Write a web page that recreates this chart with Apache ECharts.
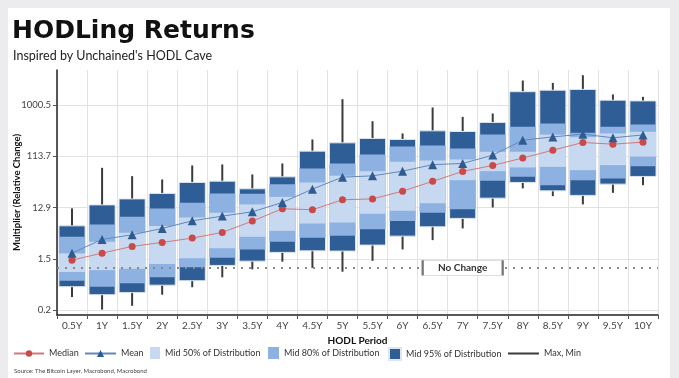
<!DOCTYPE html>
<html>
<head>
<meta charset="utf-8">
<script src="https://cdn.jsdelivr.net/npm/echarts@6/dist/echarts.min.js"></script>
<style>
  html, body { margin: 0; padding: 0; background: #ececef; }
  #card { position: absolute; left: 8px; top: 8px; right: 9px; bottom: 0; background: #fff; }
  #chart { position: absolute; left: 0; top: 0; width: 679px; height: 378px; }
</style>
</head>
<body>
<div id="card"></div>
<div id="chart"></div>
<script>
// holding periods
const periods = ['0.5Y','1Y','1.5Y','2Y','2.5Y','3Y','3.5Y','4Y','4.5Y','5Y',
                 '5.5Y','6Y','6.5Y','7Y','7.5Y','8Y','8.5Y','9Y','9.5Y','10Y']
// return multipliers per period
const maxV   = [12.5, 69.9, 49.1, 42.7, 77.4, 80.7, 52.8, 84.2, 233, 1288, 506, 301, 906, 608, 702, 2846, 2572, 3564, 1572, 1420]
const p975   = [5.96, 14.5, 18.7, 23.6, 37.6, 39.7, 28.7, 47.7, 142, 202, 243, 233, 336, 327, 480, 1770, 1886, 1952, 1235, 1198]
const p90    = [3.74, 6.33, 8.74, 12.5, 15.8, 23.6, 23.2, 35.0, 68.1, 84.2, 123, 173, 181, 159, 288, 398, 459, 309, 398, 442]
const p75    = [1.85, 3.03, 4.44, 5.89, 8.52, 10.4, 14.8, 20.4, 37.6, 49.7, 60.7, 90.2, 95.7, 99.8, 138, 138, 286, 257, 301, 322]
const meanV  = [1.87, 3.35, 4.07, 5.34, 7.37, 9.0, 10.8, 16.1, 28.3, 47.1, 49.7, 60.7, 80.0, 84.2, 120, 226, 260, 292, 250, 283]
const median = [1.39, 1.87, 2.49, 2.95, 3.54, 4.51, 7.28, 12.3, 11.8, 18.0, 18.7, 26.0, 39.4, 60.0, 77.4, 106, 148, 205, 191, 208]
const p25    = [0.84, 0.91, 0.96, 1.18, 1.50, 2.29, 3.74, 4.82, 6.60, 6.89, 9.92, 11.3, 15.6, 41.4, 60.7, 71.1, 72.9, 63.4, 78.4, 113]
const p10    = [0.58, 0.45, 0.52, 0.67, 1.03, 1.54, 2.19, 3.03, 3.59, 3.90, 5.18, 7.28, 10.4, 12.0, 40.2, 47.7, 33.5, 41.4, 44.5, 75.1]
const p025   = [0.45, 0.32, 0.35, 0.48, 0.58, 1.11, 1.33, 1.93, 2.06, 2.04, 2.63, 3.85, 5.72, 8.17, 19.3, 37.6, 26.3, 21.7, 35.0, 48.5]
const minV   = [0.29, 0.17, 0.20, 0.32, 0.44, 0.67, 0.94, 1.30, 1.00, 0.85, 1.35, 2.19, 3.25, 5.34, 13.0, 29.2, 21.0, 14.8, 24.2, 33.5]
// y tick labels (log spaced)
const yTicks = [0.167, 1.47, 12.94, 113.7, 1000.5]
const noChange = 1

const ln = Math.log
const band = (lo, hi) => periods.map((p, i) => [i, ln(lo[i]), ln(hi[i])])

const chart = echarts.init(document.getElementById('chart'))

function rectItem(params, api) {
  const lo = api.coord([api.value(0), api.value(1)])
  const hi = api.coord([api.value(0), api.value(2)])
  const w = api.size([1, 0])[0] * 0.87
  return {
    type: 'rect',
    shape: { x: lo[0] - w / 2, y: hi[1], width: w, height: lo[1] - hi[1] },
    style: api.style()
  }
}
function whiskerItem(params, api) {
  const lo = api.coord([api.value(0), api.value(1)])
  const hi = api.coord([api.value(0), api.value(2)])
  return {
    type: 'line',
    shape: { x1: lo[0], y1: lo[1], x2: hi[0], y2: hi[1] },
    style: { stroke: '#3b3b3b', lineWidth: 2 }
  }
}

const font = 'Lato'
const legendText = { fontFamily: font, fontSize: 9, color: '#333' }
// one legend per item so each sits where it does in the original
function leg(name, left, w, h, extra) {
  return Object.assign({ data: [name], left: left, top: 353 - 6, itemWidth: w, itemHeight: h,
    textStyle: legendText, padding: 0 }, extra || {})
}

const option = {
  animation: false,
  title: [
    { text: 'HODLing Returns', left: 12, top: 19, padding: 0,
      textStyle: { fontFamily: 'DejaVu Sans', fontWeight: 'bold', fontSize: 25, color: '#111' } },
    { text: "Inspired by Unchained's HODL Cave", left: 13, top: 49, padding: 0,
      textStyle: { fontFamily: font, fontWeight: 'normal', fontSize: 12.5, color: '#222' } },
    { text: 'Source: The Bitcoin Layer, Macrobond, Macrobond', left: 14, top: 368, padding: 0,
      textStyle: { fontFamily: font, fontWeight: 'normal', fontSize: 6, color: '#444' } }
  ],
  legend: [
    leg('Median', 13, 30, 8, { top: 349 }),
    leg('Mean', 84, 31, 9, { top: 349 }),
    leg({ name: 'Mid 50% of Distribution', icon: 'rect' }, 150, 10, 12),
    leg({ name: 'Mid 80% of Distribution', icon: 'rect' }, 268, 11, 12),
    leg({ name: 'Mid 95% of Distribution', icon: 'rect' }, 388, 12, 12),
    leg('Max, Min', 507, 31, 8, { top: 349, itemStyle: { opacity: 0 } })
  ],
  grid: { left: 57, right: 21, top: 70, bottom: 63 },
  xAxis: {
    type: 'category',
    data: periods,
    name: 'HODL Period',
    nameLocation: 'middle',
    nameGap: 17,
    nameTextStyle: { fontFamily: font, fontWeight: 'bold', fontSize: 10, color: '#111' },
    axisLine: { onZero: false, lineStyle: { color: '#222', width: 1.5 } },
    axisTick: { show: true, length: 4, lineStyle: { color: '#555' } },
    axisLabel: { fontFamily: font, fontSize: 10, color: '#444', margin: 6, interval: 0 },
    splitLine: { show: true, lineStyle: { color: '#e2e2e2' } }
  },
  yAxis: {
    type: 'value',
    min: -2.0,
    max: 8.4,
    name: 'Multiplier (Relative Change)',
    nameLocation: 'middle',
    nameGap: 35,
    nameMoveOverlap: false,
    nameTextStyle: { fontFamily: font, fontWeight: 'bold', fontSize: 9.5, color: '#111' },
    axisLine: { show: true, onZero: false, lineStyle: { color: '#222', width: 1.5 } },
    axisTick: { show: true, length: 4, customValues: yTicks.map(ln), lineStyle: { color: '#555' } },
    axisLabel: { fontFamily: font, fontSize: 9.5, color: '#444', margin: 6,
                 customValues: yTicks.map(ln), formatter: v => Math.exp(v).toFixed(1) },
    splitLine: { show: true, lineStyle: { color: '#e2e2e2' } }
  },
  series: [
    { name: 'Max, Min', type: 'line', data: [], symbol: 'none', lineStyle: { color: '#3b3b3b', width: 2 }, itemStyle: { color: '#3b3b3b' } },
    { name: 'whiskers', type: 'custom', renderItem: whiskerItem, data: band(minV, maxV), encode: { x: 0, y: [1, 2] } },
    { name: 'Mid 95% of Distribution', type: 'custom', renderItem: rectItem, data: band(p025, p975),
      encode: { x: 0, y: [1, 2] }, itemStyle: { color: '#2f5d95', borderColor: '#dfe6ef', borderWidth: 1 } },
    { name: 'Mid 80% of Distribution', type: 'custom', renderItem: rectItem, data: band(p10, p90),
      encode: { x: 0, y: [1, 2] }, itemStyle: { color: '#8db2e2' } },
    { name: 'Mid 50% of Distribution', type: 'custom', renderItem: rectItem, data: band(p25, p75),
      encode: { x: 0, y: [1, 2] }, itemStyle: { color: '#c7d9f1' },
      markLine: {
        silent: true, symbol: 'none', label: { show: false },
        lineStyle: { color: '#8a8a8a', width: 2, type: [2, 6] },
        data: [{ yAxis: ln(noChange) }]
      },
      markPoint: {
        silent: true,
        symbol: 'rect', symbolSize: [80, 15],
        itemStyle: { color: '#fff', borderColor: '#777', borderWidth: 1 },
        label: { show: true, formatter: 'No Change', fontFamily: font, fontWeight: 'bold', fontSize: 10, color: '#333' },
        data: [{ coord: ['7Y', ln(noChange)] }]
      }
    },
    { name: 'Median', type: 'line', data: median.map(ln), symbol: 'circle', symbolSize: 7,
      itemStyle: { color: '#c94a48' }, lineStyle: { color: '#d4777a', width: 1 }, z: 5 },
    { name: 'Mean', type: 'line', data: meanV.map(ln), symbol: 'triangle', symbolSize: 9,
      itemStyle: { color: '#2f5b90' }, lineStyle: { color: '#6287bb', width: 1 }, z: 5 }
  ]
}
chart.setOption(option)
</script>
</body>
</html>
